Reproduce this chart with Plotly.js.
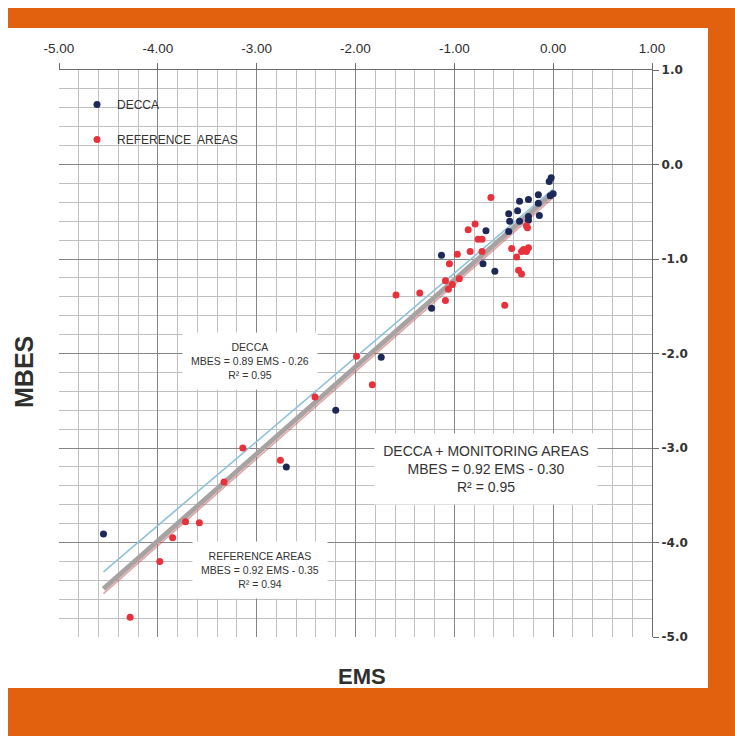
<!DOCTYPE html>
<html>
<head>
<meta charset="utf-8">
<script src="https://cdn.plot.ly/plotly-3.0.1.min.js"></script>
<style>
  html, body { margin:0; padding:0; background:#ffffff; width:735px; height:736px; overflow:hidden; }
  .band { position:absolute; background:#e2610f; }
  #chart { position:absolute; left:0; top:0; width:735px; height:736px; }
</style>
</head>
<body>
<div class="band" style="left:8px; top:8px; width:727px; height:20px;"></div>
<div class="band" style="left:708px; top:8px; width:27px; height:728px;"></div>
<div class="band" style="left:8px; top:688px; width:727px; height:48px;"></div>
<div id="chart"></div>
<script>
// ---- data ----
const deccaEMS  = [-0.02,-0.04,0.00,-0.03,-0.15,-0.25,-0.34,-0.15,-0.36,-0.45,-0.44,-0.34,-0.25,-0.25,-0.14,-0.68,-0.45,-1.13,-0.71,-0.59,-1.23,-1.74,-2.20,-2.70,-4.55];
const deccaMBES = [-0.14,-0.18,-0.31,-0.33,-0.32,-0.37,-0.39,-0.41,-0.49,-0.52,-0.60,-0.60,-0.55,-0.59,-0.54,-0.70,-0.71,-0.96,-1.05,-1.13,-1.52,-2.04,-2.60,-3.20,-3.91];

const refEMS  = [-0.63,-0.79,-0.86,-0.27,-0.26,-0.76,-0.72,-0.84,-0.72,-0.97,-0.42,-0.30,-0.25,-0.27,-0.32,-0.37,-1.05,-0.35,-0.32,-1.09,-0.95,-1.02,-1.06,-1.35,-1.09,-0.49,-1.59,-1.99,-1.83,-2.41,-3.14,-2.76,-3.33,-3.72,-3.58,-3.85,-3.98,-4.28];
const refMBES = [-0.35,-0.63,-0.69,-0.65,-0.67,-0.79,-0.79,-0.92,-0.92,-0.95,-0.89,-0.90,-0.88,-0.92,-0.92,-0.98,-1.05,-1.12,-1.16,-1.23,-1.21,-1.27,-1.32,-1.36,-1.44,-1.49,-1.38,-2.03,-2.33,-2.46,-3.00,-3.13,-3.36,-3.78,-3.79,-3.95,-4.20,-4.79];

// regression lines (end points as drawn)
const fitEMS        = [-4.55, 0.00];
const fitDeccaMBES  = [-4.31, -0.26];
const fitAllMBES    = [-4.49, -0.30];
const fitRefMBES    = [-4.54, -0.35];

const xTickVals = [-5,-4,-3,-2,-1,0,1];
const xTickText = ['-5.00','-4.00','-3.00','-2.00','-1.00','0.00','1.00'];
const yTickVals = [1,0,-1,-2,-3,-4,-5];
const yTickText = ['1.0','0.0','-1.0','-2.0','-3.0','-4.0','-5.0'];

const legendLabels = ['DECCA','REFERENCE  AREAS'];
const noteDecca = 'DECCA<br>MBES = 0.89 EMS - 0.26<br>R² = 0.95';
const noteAll   = 'DECCA + MONITORING AREAS<br>MBES = 0.92 EMS - 0.30<br>R² = 0.95';
const noteRef   = 'REFERENCE AREAS<br>MBES = 0.92 EMS - 0.35<br>R² = 0.94';

// ---- geometry helpers (plot area pixels) ----
const PL = 59, PR = 652, PT = 70, PB = 637;
const W = 735, H = 736;
const px = v => (v - PL) / (PR - PL);
const py = v => (PB - v) / (PB - PT);

const navy = '#1d2859', red = '#e8313a';
const sans = '"Liberation Sans", Arial, sans-serif';

const traces = [
  {x: fitEMS, y: fitAllMBES, mode:'lines', line:{color:'#a9a2a2', width:5}, showlegend:false, hoverinfo:'skip'},
  {x: fitEMS, y: fitRefMBES, mode:'lines', line:{color:'rgba(200,90,90,0.55)', width:1.6}, showlegend:false, hoverinfo:'skip'},
  {x: fitEMS, y: fitDeccaMBES, mode:'lines', line:{color:'#8ec0da', width:1.6}, showlegend:false, hoverinfo:'skip'},
  {x: deccaEMS, y: deccaMBES, mode:'markers', name: legendLabels[0], legendgroup:'a',
   marker:{color:navy, size:7}},
  {x: refEMS, y: refMBES, mode:'markers', name: legendLabels[1], legendgroup:'b',
   marker:{color:red, size:7}}
];

const noteFont = (s) => ({family:sans, size:s, color:'#333333'});

const layout = {
  width: W, height: H,
  margin: {l: PL, r: W - PR, t: PT, b: H - PB, pad: 0},
  paper_bgcolor: 'rgba(0,0,0,0)',
  plot_bgcolor: '#ffffff',
  showlegend: true,
  legend: {x: px(77), y: py(90), xanchor:'left', yanchor:'top', bgcolor:'rgba(0,0,0,0)',
           borderwidth:0, traceorder:'grouped', tracegroupgap: 16,
           font:{family:sans, size:12, color:'#333333'}},
  xaxis: {
    side:'top', range:[-5,1], tickvals:xTickVals, ticktext:xTickText,
    showgrid:true, gridcolor:'#858585', gridwidth:1,
    minor:{dtick:0.2, showgrid:true, gridcolor:'#c0c0c0', gridwidth:1},
    showline:true, linecolor:'#6d6d6d', linewidth:1.2,
    ticks:'outside', ticklen:6, tickcolor:'#6d6d6d', ticklabelstandoff:4,
    zeroline:false, fixedrange:true,
    tickfont:{family:sans, size:13.5, color:'#2e2e2e'}
  },
  yaxis: {
    side:'right', range:[-5,1], tickvals:yTickVals, ticktext:yTickText,
    showgrid:true, gridcolor:'#858585', gridwidth:1,
    minor:{dtick:0.2, showgrid:true, gridcolor:'#c0c0c0', gridwidth:1},
    showline:true, linecolor:'#6d6d6d', linewidth:1.2,
    ticks:'outside', ticklen:6, tickcolor:'#6d6d6d',
    zeroline:false, fixedrange:true,
    tickfont:{family:'"DejaVu Sans", sans-serif', size:12, color:'#333333', weight:'bold'}
  },
  shapes: [
    {type:'rect', xref:'paper', yref:'paper', x0:px(85), x1:px(233), y0:py(157), y1:py(85),
     fillcolor:'#ffffff', line:{width:0}, layer:'between'}
  ],
  annotations: [
    {xref:'paper', yref:'paper', x:px(250), y:py(361), xanchor:'center', yanchor:'middle',
     text: noteDecca, showarrow:false, bgcolor:'#ffffff', width:134, height:56, borderpad:0,
     font: noteFont(10.5), align:'center'},
    {xref:'paper', yref:'paper', x:px(486), y:py(469), xanchor:'center', yanchor:'middle',
     text: noteAll, showarrow:false, bgcolor:'#ffffff', width:222, height:70, borderpad:0,
     font: noteFont(14), align:'center'},
    {xref:'paper', yref:'paper', x:px(260), y:py(570), xanchor:'center', yanchor:'middle',
     text: noteRef, showarrow:false, bgcolor:'#ffffff', width:134, height:56, borderpad:0,
     font: noteFont(10.5), align:'center'},
    {xref:'paper', yref:'paper', x:px(24), y:py(372), xanchor:'center', yanchor:'middle',
     text:'MBES', textangle:-90, showarrow:false,
     font:{family:sans, size:25, color:'#2f2f2f', weight:'bold'}},
    {xref:'paper', yref:'paper', x:px(362), y:py(676), xanchor:'center', yanchor:'middle',
     text:'EMS', showarrow:false,
     font:{family:sans, size:22, color:'#2f2f2f', weight:'bold'}}
  ]
};

Plotly.newPlot('chart', traces, layout, {displayModeBar:false, staticPlot:true});
</script>
</body>
</html>
